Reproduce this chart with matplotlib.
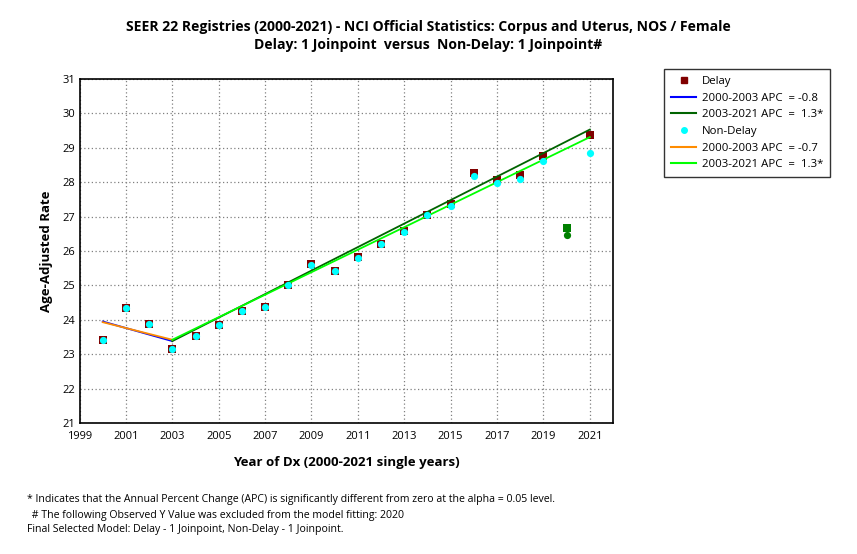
import matplotlib
matplotlib.use("Agg")
import matplotlib.pyplot as plt
from matplotlib.lines import Line2D

plt.rcParams['font.family'] = ['Open Sans', 'DejaVu Sans']

# observed rates
years = list(range(2000, 2022))
delay = [23.42, 24.34, 23.88, 23.14, 23.53, 23.86, 24.26, 24.38, 25.02, 25.61, 25.43,
         25.82, 26.20, 26.58, 27.06, 27.37, 28.26, 28.06, 28.21, 28.76, 26.66, 29.37]
nondelay = [23.42, 24.33, 23.88, 23.14, 23.52, 23.85, 24.25, 24.38, 25.01, 25.60, 25.42,
            25.81, 26.19, 26.56, 27.04, 27.30, 28.19, 27.98, 28.10, 28.63, 26.46, 28.86]
excluded_year = 2020

# joinpoint fits (segment ends)
fit_years = [2000, 2003, 2021]
delay_fit = [23.95, 23.38, 29.53]
nondelay_fit = [23.93, 23.42, 29.31]

fig = plt.figure(figsize=(8.57, 5.54), dpi=100)
ax = fig.add_axes([0.0928, 0.2365, 0.6225, 0.6209])

inc = [i for i, y in enumerate(years) if y != excluded_year]
exc = [i for i, y in enumerate(years) if y == excluded_year]

ax.plot([years[i] for i in inc], [delay[i] for i in inc], 's', color='#800000',
        markersize=5.2, markeredgewidth=0, zorder=3)
ax.plot([years[i] for i in exc], [delay[i] for i in exc], 's', color='#008000',
        markersize=5.2, markeredgewidth=0, zorder=3)

ax.plot(fit_years[:2], delay_fit[:2], color='#0000ff', lw=1.3, zorder=4)
ax.plot(fit_years[1:], delay_fit[1:], color='#006400', lw=1.3, zorder=4)
ax.plot(fit_years[:2], nondelay_fit[:2], color='#ff8c00', lw=1.3, zorder=4)
ax.plot(fit_years[1:], nondelay_fit[1:], color='#00ff00', lw=1.3, zorder=4)

ax.plot([years[i] for i in inc], [nondelay[i] for i in inc], 'o', color='#00ffff',
        markersize=5.2, markeredgewidth=0, zorder=5)
ax.plot([years[i] for i in exc], [nondelay[i] for i in exc], 'o', color='#008000',
        markersize=5.2, markeredgewidth=0, zorder=5)

ax.set_xlim(1999, 2022)
ax.set_ylim(21, 31)
ax.set_xticks(range(1999, 2022, 2))
ax.set_yticks(range(21, 32))
ax.tick_params(axis='x', length=0, labelsize=8, pad=6)
ax.tick_params(axis='y', length=0, labelsize=8, pad=3)
ax.grid(True, linestyle=(0, (1, 2)), color='#808080', linewidth=0.9)
for s in ax.spines.values():
    s.set_linewidth(1.2)

ax.set_xlabel('Year of Dx (2000-2021 single years)', fontsize=9.5, fontweight='bold', labelpad=10)
ax.set_ylabel('Age-Adjusted Rate', fontsize=9.5, fontweight='bold', labelpad=7)

fig.text(0.5, 0.951, 'SEER 22 Registries (2000-2021) - NCI Official Statistics: Corpus and Uterus, NOS / Female',
         ha='center', va='center', fontsize=10.1, fontweight='bold')
fig.text(0.5, 0.918, 'Delay: 1 Joinpoint  versus  Non-Delay: 1 Joinpoint#',
         ha='center', va='center', fontsize=10.1, fontweight='bold')

handles = [
    Line2D([], [], ls='none', marker='s', color='#800000', markersize=4),
    Line2D([], [], color='#0000ff', lw=1.5),
    Line2D([], [], color='#006400', lw=1.5),
    Line2D([], [], ls='none', marker='o', color='#00ffff', markersize=4),
    Line2D([], [], color='#ff8c00', lw=1.5),
    Line2D([], [], color='#00ff00', lw=1.5),
]
labels = ['Delay', '2000-2003 APC  = -0.8', '2003-2021 APC  =  1.3*',
          'Non-Delay', '2000-2003 APC  = -0.7', '2003-2021 APC  =  1.3*']
leg = fig.legend(handles, labels, loc='upper left', bbox_to_anchor=(0.775, 0.8755),
                 fontsize=8.2, frameon=True, fancybox=False, handlelength=2.2,
                 handletextpad=0.5, labelspacing=0.5, borderpad=0.6, borderaxespad=0)
leg.get_frame().set_edgecolor('black')
leg.get_frame().set_linewidth(1.0)

fig.text(0.032, 0.099, '* Indicates that the Annual Percent Change (APC) is significantly different from zero at the alpha = 0.05 level.',
         fontsize=7.55, va='center')
fig.text(0.034, 0.070, ' # The following Observed Y Value was excluded from the model fitting: 2020',
         fontsize=7.55, va='center')
fig.text(0.032, 0.045, 'Final Selected Model: Delay - 1 Joinpoint, Non-Delay - 1 Joinpoint.',
         fontsize=7.55, va='center')

fig.savefig('out.png', dpi=100)
